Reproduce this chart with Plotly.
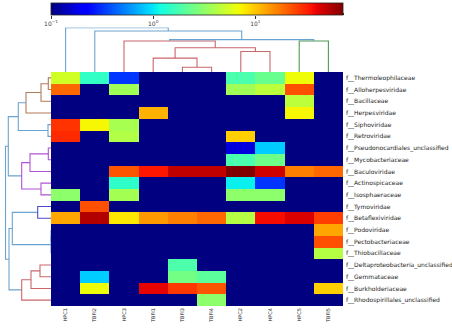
import numpy as np
import plotly.graph_objects as go

# Samples (columns, in clustered order) and families (rows, in clustered order)
samples = ["HPC1", "TBFI2", "HPC3", "TBFI1", "TBFI3", "TBFI4", "HPC2", "HPC4", "HPC5", "TBFI5"]
families = [
    "f__Thermoleophilaceae", "f__Alloherpesviridae", "f__Bacillaceae", "f__Herpesviridae",
    "f__Siphoviridae", "f__Retroviridae", "f__Pseudonocardiales_unclassified",
    "f__Mycobacteriaceae", "f__Baculoviridae", "f__Actinospicaceae", "f__Isosphaeraceae",
    "f__Tymoviridae", "f__Betaflexiviridae", "f__Podoviridae", "f__Pectobacteriaceae",
    "f__Thiobacillaceae", "f__Deltaproteobacteria_unclassified", "f__Gemmataceae",
    "f__Burkholderiaceae", "f__Rhodospirillales_unclassified",
]

# Relative abundance per family (rows) and sample (columns); 0 = not detected
abundance = [
    [5.3, 1.5, 0.32, 0, 0, 0, 1.8, 2.3, 6.8, 0],
    [19.5, 0, 3.6, 0, 0, 0, 3.6, 4.5, 23, 0],
    [0, 0, 0, 0, 0, 0, 0, 0, 4.5, 0],
    [0, 0, 0, 11.5, 0, 0, 0, 0, 7.2, 0],
    [28, 7.2, 3.8, 0, 0, 0, 0, 0, 0, 0],
    [30, 0, 4.1, 0, 0, 0, 9.4, 0, 0, 0],
    [0, 0, 0, 0, 0, 0, 0.17, 0.85, 0, 0],
    [0, 0, 0, 0, 0, 0, 1.8, 2.4, 0, 0],
    [0, 0, 22, 34, 50, 50, 72, 46, 16.4, 19.5],
    [0, 0, 1.45, 0, 0, 0, 1.07, 0.32, 0, 0],
    [3.1, 0, 3.7, 0, 0, 0, 3.1, 3.1, 0, 0],
    [0, 23, 0, 0, 0, 0, 0, 0, 0, 0],
    [12.5, 54, 8.0, 13.7, 16.4, 19.5, 4.2, 37, 43, 26],
    [0, 0, 0, 0, 0, 0, 0, 0, 0, 12.5],
    [0, 0, 0, 0, 0, 0, 0, 0, 0, 23],
    [0, 0, 0, 0, 0, 0, 0, 0, 0, 4.2],
    [0, 0, 0, 0, 1.85, 0, 0, 0, 0, 0],
    [0, 0.85, 0, 0, 2.5, 2.06, 0, 0, 0, 0],
    [0, 6.8, 0, 40, 27, 22, 0, 0, 0, 9.4],
    [0, 0, 0, 0, 0, 3.1, 0, 0, 0, 0],
]

# Colour-bar tick marks (abundance units) and their labels
scale_ticks = [0.1, 1, 10]
scale_labels = ["10<sup>\u22121</sup>", "10<sup>0</sup>", "10<sup>1</sup>"]

# Column linkage: (left, right, distance, colour group); "#k" refers to the k-th merge
col_links = [
    ("TBFI3", "TBFI4", 4.7, "red"),
    ("TBFI1", "#0", 13.7, "red"),
    ("HPC2", "HPC4", 20.3, "red"),
    ("#1", "#2", 24.0, "red"),
    ("HPC3", "#3", 30.7, "red"),
    ("HPC5", "TBFI5", 30.7, "green"),
    ("#4", "#5", 32.0, "blue"),
    ("TBFI2", "#6", 40.5, "blue"),
    ("HPC1", "#7", 43.7, "blue"),
]

# Row linkage, same convention
row_links = [
    ("f__Thermoleophilaceae", "f__Alloherpesviridae", 2.7, "brown"),
    ("#0", "f__Bacillaceae", 10.0, "brown"),
    ("#1", "f__Herpesviridae", 25.0, "brown"),
    ("f__Siphoviridae", "f__Retroviridae", 3.0, "blue"),
    ("#2", "#3", 32.7, "blue"),
    ("f__Pseudonocardiales_unclassified", "f__Mycobacteriaceae", 2.7, "purple"),
    ("#5", "f__Baculoviridae", 21.0, "purple"),
    ("f__Actinospicaceae", "f__Isosphaeraceae", 10.0, "purple"),
    ("#6", "#7", 29.3, "purple"),
    ("#4", "#8", 42.7, "blue"),
    ("f__Tymoviridae", "f__Betaflexiviridae", 13.3, "indigo"),
    ("f__Podoviridae", "f__Pectobacteriaceae", 0.0, "blue"),
    ("#11", "f__Thiobacillaceae", 0.0, "blue"),
    ("#10", "#12", 38.7, "blue"),
    ("f__Deltaproteobacteria_unclassified", "f__Gemmataceae", 11.0, "red"),
    ("#14", "f__Burkholderiaceae", 20.0, "red"),
    ("#15", "f__Rhodospirillales_unclassified", 29.3, "red"),
    ("#13", "#16", 42.0, "blue"),
    ("#9", "#17", 45.5, "blue"),
]

link_colours = {
    "blue": "#6aa3cf", "red": "#c9676b", "green": "#4f9a55",
    "brown": "#b27b57", "purple": "#b052d6", "indigo": "#4c4cc8",
}


def dendrogram_segments(links, leaves):
    """Return per-colour polylines (position, distance) for a linkage list."""
    pos = {name: float(i) for i, name in enumerate(leaves)}
    hgt = {name: 0.0 for name in leaves}
    segs = {}
    for k, (a, b, d, col) in enumerate(links):
        pa, pb = pos[a], pos[b]
        s = segs.setdefault(col, ([], []))
        s[0].extend([pa, pa, pb, pb, None])
        s[1].extend([hgt[a], d, d, hgt[b], None])
        pos["#%d" % k] = (pa + pb) / 2
        hgt["#%d" % k] = d
    return segs


# Log colour scale built from matplotlib's "jet" segment data
jet_r = ([0, 0.35, 0.66, 0.89, 1], [0, 0, 1, 1, 0.5])
jet_g = ([0, 0.125, 0.375, 0.64, 0.91, 1], [0, 0, 1, 1, 0, 0])
jet_b = ([0, 0.11, 0.34, 0.65, 1], [0.5, 1, 1, 0, 0])
jet = []
for s in np.linspace(0, 1, 65):
    r = np.interp(s, *jet_r)
    g = np.interp(s, *jet_g)
    b = np.interp(s, *jet_b)
    jet.append([float(s), "rgb(%d,%d,%d)" % (round(r * 255), round(g * 255), round(b * 255))])

vals = np.array(abundance, dtype=float)
zmin = float(np.log10(min(scale_ticks)))
zmax = float(np.log10(vals.max()))
z = np.where(vals > 0, np.log10(np.where(vals > 0, vals, 1)), zmin)
z = np.clip(z, zmin, zmax)

W, H = 452, 330
hm_x0, hm_x1 = 51, 343
hm_y0, hm_y1 = 72, 306
cb_top, cb_bot = 3, 15

fig = go.Figure()

fig.add_trace(go.Heatmap(
    z=z, x=list(range(len(samples))), y=list(range(len(families))),
    colorscale=jet, zmin=zmin, zmax=zmax, showscale=True,
    xaxis="x", yaxis="y", hoverinfo="skip",
    colorbar=dict(
        orientation="h", x=hm_x0 / W, xanchor="left", y=1 - cb_top / H, yanchor="top",
        len=hm_x1 - hm_x0, lenmode="pixels", thickness=cb_bot - cb_top,
        thicknessmode="pixels", xpad=0, ypad=0, outlinewidth=0.8, outlinecolor="#222",
        ticks="", showticklabels=False,
    ),
))

col_segs = dendrogram_segments(col_links, samples)
for col, (xs, ys) in col_segs.items():
    fig.add_trace(go.Scatter(x=xs, y=ys, mode="lines", xaxis="x2", yaxis="y2",
                             line=dict(color=link_colours[col], width=1.1),
                             hoverinfo="skip", showlegend=False))

row_segs = dendrogram_segments(row_links, families)
for col, (ps, ds) in row_segs.items():
    fig.add_trace(go.Scatter(x=ds, y=ps, mode="lines", xaxis="x3", yaxis="y3",
                             line=dict(color=link_colours[col], width=1.1),
                             hoverinfo="skip", showlegend=False))

# Log axis under the colour bar carrying its major and minor ticks
fig.add_trace(go.Scatter(x=[scale_ticks[0]], y=[0], mode="markers", xaxis="x4", yaxis="y4",
                         marker=dict(opacity=0), hoverinfo="skip", showlegend=False))

font = dict(family="DejaVu Sans", color="#222")
fig.update_layout(
    width=W, height=H, margin=dict(l=0, r=0, t=0, b=0, autoexpand=False),
    paper_bgcolor="white", plot_bgcolor="rgba(0,0,0,0)", showlegend=False,
    xaxis=dict(domain=[hm_x0 / W, hm_x1 / W], range=[-0.5, len(samples) - 0.5],
               tickvals=list(range(len(samples))), ticktext=samples, tickangle=-90,
               ticks="", showgrid=False, zeroline=False, showline=False,
               tickfont=dict(size=5, **font), anchor="y"),
    yaxis=dict(domain=[1 - hm_y1 / H, 1 - hm_y0 / H], range=[len(families) - 0.5, -0.5],
               tickvals=list(range(len(families))), ticktext=families, side="right",
               ticks="", showgrid=False, zeroline=False, showline=False,
               tickfont=dict(size=6, **font), anchor="x", ticklabelstandoff=2),
    xaxis2=dict(domain=[hm_x0 / W, hm_x1 / W], range=[-0.5, len(samples) - 0.5],
                visible=False, anchor="y2"),
    yaxis2=dict(domain=[1 - hm_y0 / H, 1 - 27.5 / H], range=[0, 44.0],
                visible=False, anchor="x2"),
    xaxis3=dict(domain=[4.5 / W, hm_x0 / W], range=[46.5, 0], visible=False, anchor="y3"),
    yaxis3=dict(domain=[1 - hm_y1 / H, 1 - hm_y0 / H], range=[len(families) - 0.5, -0.5],
                visible=False, anchor="x3"),
    xaxis4=dict(domain=[hm_x0 / W, hm_x1 / W], type="log", range=[zmin, zmax],
                tickvals=scale_ticks, ticktext=scale_labels, ticks="outside", ticklen=2.5,
                tickwidth=0.7, tickcolor="#333", showgrid=False, zeroline=False,
                showline=False, tickfont=dict(size=6, family="DejaVu Sans", color="#444"),
                minor=dict(ticks="inside", ticklen=1.8, tickwidth=0.6, tickcolor="#333",
                           showgrid=False),
                anchor="y4", fixedrange=True),
    yaxis4=dict(domain=[1 - cb_bot / H, 1 - cb_top / H], range=[0, 1], visible=False,
                anchor="x4", fixedrange=True),
)

fig.write_html("out.html")
